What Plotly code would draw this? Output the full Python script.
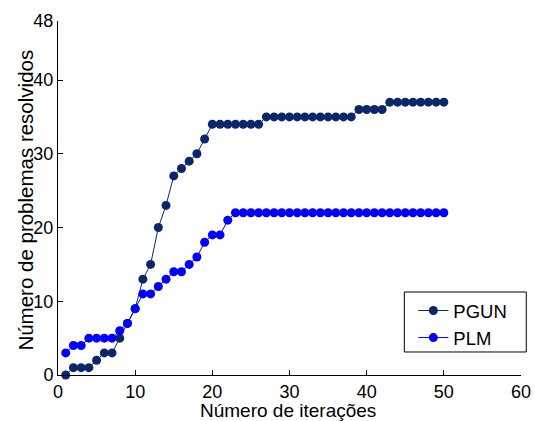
import plotly.graph_objects as go

iteracoes = list(range(1, 51))
pgun = [0, 1, 1, 1, 2, 3, 3, 5, 7, 9,
        13, 15, 20, 23, 27, 28, 29, 30, 32, 34,
        34, 34, 34, 34, 34, 34, 35, 35, 35, 35,
        35, 35, 35, 35, 35, 35, 35, 35, 36, 36,
        36, 36, 37, 37, 37, 37, 37, 37, 37, 37]
plm = [3, 4, 4, 5, 5, 5, 5, 6, 7, 9,
       11, 11, 12, 13, 14, 14, 15, 16, 18, 19,
       19, 21, 22, 22, 22, 22, 22, 22, 22, 22,
       22, 22, 22, 22, 22, 22, 22, 22, 22, 22,
       22, 22, 22, 22, 22, 22, 22, 22, 22, 22]
y_ticks = [0, 10, 20, 30, 40, 48]
x_ticks = [0, 10, 20, 30, 40, 50, 60]

FONT = "Liberation Sans, Arial, sans-serif"

fig = go.Figure()
fig.add_trace(go.Scatter(x=iteracoes, y=pgun, name="PGUN", mode="lines+markers",
                         line=dict(color="rgb(12,38,105)", width=1),
                         marker=dict(color="rgb(12,38,105)", size=9),
                         cliponaxis=False))
fig.add_trace(go.Scatter(x=iteracoes, y=plm, name="PLM", mode="lines+markers",
                         line=dict(color="rgb(0,0,255)", width=1),
                         marker=dict(color="rgb(0,0,255)", size=9),
                         cliponaxis=False))

# legend frame
fig.add_shape(type="rect", xref="paper", yref="paper",
              x0=0.748, x1=1.0114, y0=0.065, y1=0.2345,
              line=dict(color="black", width=1), fillcolor="white", layer="below")

fig.add_annotation(text="Número de iterações", xref="paper", yref="paper",
                   x=0.4966, y=-0.1003, xanchor="center", yanchor="middle",
                   showarrow=False, font=dict(size=19), borderpad=0)
fig.add_annotation(text="Número de problemas resolvidos", xref="paper", yref="paper",
                   x=-0.0702, y=0.494, xanchor="center", yanchor="middle",
                   textangle=-90, showarrow=False, font=dict(size=20.5))

fig.update_layout(
    width=535, height=421,
    margin=dict(l=57.5, r=14.3, t=21, b=46),
    paper_bgcolor="white", plot_bgcolor="white",
    font=dict(family=FONT, size=18, color="black"),
    showlegend=True,
    legend=dict(x=0.7675, xanchor="left", y=0.2345, yanchor="top",
                borderwidth=0, bgcolor="rgba(0,0,0,0)",
                font=dict(size=18.5), tracegroupgap=0),
    xaxis=dict(range=[0, 60], tickvals=x_ticks, ticks="inside", ticklen=5,
               showline=True, linecolor="black", linewidth=1, showgrid=False,
               zeroline=False, tickcolor="black", automargin=False),
    yaxis=dict(range=[0, 48], tickvals=y_ticks, ticks="inside", ticklen=5,
               showline=True, linecolor="black", linewidth=1, showgrid=False,
               zeroline=False, tickcolor="black", automargin=False),
)

fig.write_html("out.html")
